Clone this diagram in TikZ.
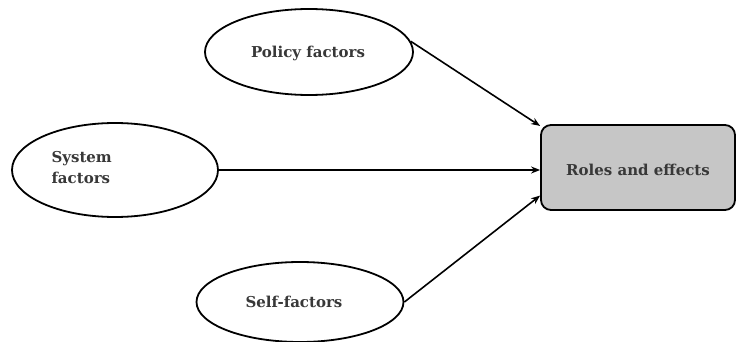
\documentclass[tikz,border=0pt]{standalone}
\usepackage{fontspec}
\setmainfont{DejaVu Serif}
\usetikzlibrary{shapes.geometric,arrows.meta}
\begin{document}
\begin{tikzpicture}[x=1pt,y=-1pt,
  factor/.style={draw=black,line width=1.8pt,ellipse,inner sep=0pt},
  result/.style={draw=black,line width=1.8pt,fill=gray!45,rounded corners=10pt,inner sep=0pt,minimum width=194pt,minimum height=85pt},
  lbl/.style={font=\fontsize{15}{21}\selectfont\bfseries,text=black!78},
  conn/.style={line width=1.6pt,-{Stealth[length=9pt,width=7pt]}}]
\useasboundingbox (0,0) rectangle (737,342);
\node[factor,minimum width=208pt,minimum height=86pt] (policy) at (309,52) {};
\node[lbl] (policyt) at (308,53) {Policy factors};
\node[factor,minimum width=206pt,minimum height=94pt] (system) at (115,170) {};
\node[lbl,align=left,anchor=west] (systemt) at (48,168) {System\\factors};
\node[factor,minimum width=207pt,minimum height=80pt] (self) at (300,302) {};
\node[lbl] (selft) at (294,302) {Self-factors};
\node[result] (roles) at (638,167.5) {};
\node[lbl] (rolest) at (638,170) {Roles and effects};
\draw[conn] (policy.6) -- (roles.157);
\draw[conn] (system.east) -- (roles.west |- system.east);
\draw[conn] (self.east) -- (roles.196);
\end{tikzpicture}
\end{document}
